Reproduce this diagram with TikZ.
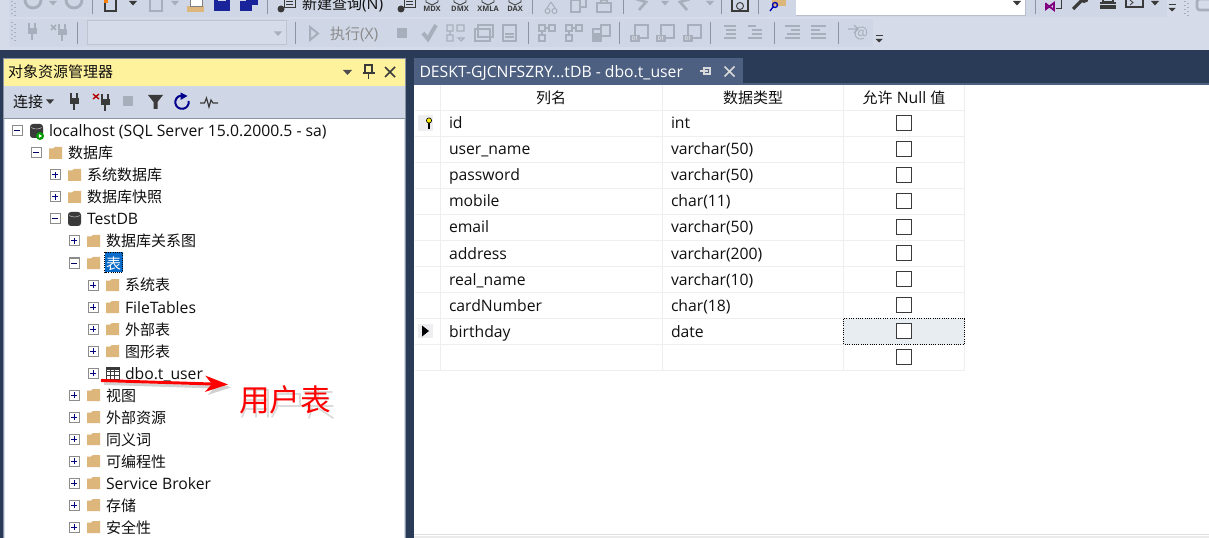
\documentclass[tikz,border=0pt]{standalone}
\usepackage{fontspec}
\setmainfont{Open Sans}
\newfontfamily\zhfont{Noto Sans CJK SC}
\newcommand{\zh}[1]{{\zhfont\fontsize{11.25}{13}\selectfont #1}}
\usetikzlibrary{arrows.meta}
\definecolor{tbone}{HTML}{CFD6E5}
\definecolor{tbtwo}{HTML}{D6DBE9}
\definecolor{navy}{HTML}{2A3B57}
\definecolor{tabblue}{HTML}{4D6082}
\definecolor{gridc}{HTML}{EEEEF0}
\definecolor{foldc}{HTML}{DCB67A}
\definecolor{iconon}{HTML}{3A3A3A}
\definecolor{iconoff}{HTML}{A8AFBC}
\definecolor{seplc}{HTML}{8B93A6}
\definecolor{txt}{HTML}{101010}
\definecolor{titley}{HTML}{FFF29D}
\definecolor{cellsel}{HTML}{E8EDF2}
\definecolor{selblue}{HTML}{0A6CC8}
\tikzset{
  lab/.style={anchor=base west,inner sep=0pt,outer sep=0pt,font=\fontsize{11.8}{13}\selectfont,text=txt},
  midlab/.style={anchor=base,inner sep=0pt,outer sep=0pt,font=\fontsize{11.8}{13}\selectfont,text=txt},
  off/.style={draw=iconoff,line width=.8pt},
  on/.style={draw=iconon,line width=1pt},
  sepl/.style={draw=seplc,line width=0.75pt},
  gline/.style={draw=gridc,line width=0.9pt},
  mini/.style={anchor=base,inner sep=0pt,outer sep=0pt,font=\fontsize{5.6}{6}\selectfont\bfseries,text=iconon},
  tiny01/.style={anchor=center,inner sep=0pt,outer sep=0pt,font=\fontsize{4}{4}\selectfont,text=white},
  annshadow/.style={draw=gray!28,line width=1.3pt,line cap=round}
}
\newcommand{\folder}[2]{\fill[foldc] (#1,#2-4.5) -- (#1+4,#2-4.5) -- (#1+6,#2-6) -- (#1+13,#2-6) -- (#1+13,#2+6) -- (#1,#2+6) -- cycle;}
\newcommand{\expminus}[2]{\draw[draw=gray!90,line width=.75pt,fill=white] (#1-5,#2-5) rectangle (#1+5,#2+5);\draw[draw=black!60!blue,line width=.75pt] (#1-3,#2) -- (#1+3,#2);}
\newcommand{\expplus}[2]{\draw[draw=gray!90,line width=.75pt,fill=white] (#1-5,#2-5) rectangle (#1+5,#2+5);\draw[draw=black!50!blue,line width=.75pt] (#1-3,#2) -- (#1+3,#2) (#1,#2-3) -- (#1,#2+3);}
\newcommand{\cyl}[2]{\fill[iconon,rounded corners=2.2pt] (#1-6.5,#2-7) rectangle (#1+6.5,#2+7);\draw[draw=white!75!black,line width=.4pt] (#1-5.5,#2-3.5) .. controls (#1-2,#2-1.5) and (#1+2,#2-1.5) .. (#1+5.5,#2-3.5);}
\newcommand{\plug}[3]{\fill[#3] (#1-4.5,#2-4) rectangle (#1+4.5,#2+2);\fill[#3] (#1-4,#2-9) rectangle (#1-1.7,#2-4);\fill[#3] (#1+1.7,#2-9) rectangle (#1+4,#2-4);\fill[#3] (#1-1.3,#2+2) rectangle (#1+1.3,#2+8);}
\newcommand{\hsep}[2]{\draw[sepl] (#1,#2) -- (#1,#2+22);}
\newcommand{\downtri}[3]{\fill[#3] (#1-4,#2-2) -- (#1+4,#2-2) -- (#1,#2+2.5) -- cycle;}
\newcommand{\overflowmark}[2]{\draw[draw=iconon,line width=.9pt] (#1-3.5,#2-3.5) -- (#1+3.5,#2-3.5);\fill[iconon] (#1-3.5,#2) -- (#1+3.5,#2) -- (#1,#2+3.5) -- cycle;}
\newcommand{\trow}[4]{\node[lab] (#1) at (#2,#3+6) {#4};}
\newcommand{\chk}[1]{\draw[draw=iconon,line width=.85pt,fill=white] (896.5,#1-7.5) rectangle (911.5,#1+7.5);}
\newcommand{\tbl}[4]{\node[lab] (n#1) at (449,#2+6) {#3};\node[lab] (t#1) at (671,#2+6) {#4};\chk{#2}}
\begin{document}
\begin{tikzpicture}[x=0.75pt,y=-0.75pt]
\useasboundingbox (0,0) rectangle (1209,538);
\clip (0,0) rectangle (1209,538);
% backgrounds
\fill[white] (0,0) rectangle (1209,538);
\fill[tbone] (0,0) rectangle (1209,17);
\fill[tbtwo] (0,17) rectangle (1209,50);
\fill[tbtwo] (0,0) rectangle (9,50);
\fill[tbone] (9,19) rectangle (873,47);
\fill[tbtwo] (1167,0) rectangle (1209,17);
\fill[navy] (0,50) rectangle (1209,85);
\fill[navy] (0,50) rectangle (414,538);
\fill[tabblue] (414,83) rectangle (1209,85);
% ---- toolbar row 1
\foreach \y in {1,5,9,13}{\fill[iconoff] (11,\y) rectangle +(1.5,1.5);\fill[iconoff] (14,\y+2) rectangle +(1.5,1.5);}
\foreach \y in {22,26,30,34,38}{\fill[iconoff] (11,\y) rectangle +(1.5,1.5);\fill[iconoff] (14,\y+2) rectangle +(1.5,1.5);}
\draw[off,line width=2.2pt] (33,0) circle[radius=8];
\draw[off,line width=2.2pt] (74,0) circle[radius=8];
\downtri{53}{3}{iconoff}
\draw[sepl] (92,0) -- (92,14);
\draw[iconon,line width=.9pt,fill=tbone] (105,-2) rectangle (116,11);
\fill[orange] (104,0) rectangle (108,3);
\downtri{133}{3}{iconon}
\draw[off,fill=tbone] (150,-2) rectangle (162,11);
\downtri{175}{3}{iconoff}
\fill[foldc] (187,6) rectangle (204,12);
\draw[draw=gray,line width=.6pt,fill=white] (190,-2) rectangle (202,6);
\fill[blue!40!navy] (214,-2) rectangle (230,11);
\fill[tbone] (218,-2) rectangle (226,1);
\fill[blue!40!navy] (240,1) rectangle (252,11);
\fill[blue!40!navy] (246,-2) rectangle (258,5);
\draw[sepl] (267,0) -- (267,14);
\fill[iconon] (281,9) circle[radius=3.5];
\draw[iconon,line width=.7pt] (284,-2) rectangle (295,7) (286,1) -- (293,1) (286,4) -- (293,4);
\node[lab] (qry) at (302,10) {\zh{新建查询}(N)};
\fill[iconon] (401,9) circle[radius=3.5];
\draw[iconon,line width=.7pt] (404,-2) rectangle (415,7) (406,1) -- (413,1) (406,4) -- (413,4);
\node[mini] (mdx) at (432,11.5) {MDX};
\node[mini] (dmx) at (460,11.5) {DMX};
\node[mini] (xmla) at (488,11.5) {XMLA};
\node[mini] (dax) at (515,11.5) {DAX};
\foreach \x in {432,460,488,515}{\draw[iconon,line width=.6pt] (\x-6,-1) -- (\x-6,2) -- (\x,5) -- (\x+6,2) -- (\x+6,-1);}
\draw[sepl] (532,0) -- (532,14);
\draw[off] (551,2) -- (547,8) (551,2) -- (555,8);
\draw[off] (547.5,11) circle[radius=2.5] (554.5,11) circle[radius=2.5];
\draw[off] (571,0) rectangle (580,12) (580,-1) rectangle (586,7);
\draw[off] (597,3) rectangle (611,12) (601,0) rectangle (607,3);
\draw[sepl] (623,0) -- (623,14);
\draw[off,line width=2pt] (636,-1) -- (646,2) -- (639,10);
\downtri{665}{3}{iconoff}
\draw[off,line width=2pt] (690,-1) -- (680,2) -- (687,10);
\downtri{710}{3}{iconoff}
\draw[sepl] (721,0) -- (721,14);
\draw[on] (732,-1) rectangle (748,11);
\draw[on,line width=.7pt] (740,6) circle[radius=3.5];
\draw[sepl] (758,0) -- (758,14);
\fill[foldc] (772,-2) rectangle (786,6);
\draw[draw=blue!70!black,line width=1pt] (775,5) circle[radius=2.5] (773,7) -- (770,11);
\fill[white] (796,0) rectangle (1025,15);
\draw[draw=seplc!60,line width=.6pt] (796,15) -- (1025,15) -- (1025,0);
\downtri{1017}{3}{iconon}
\draw[sepl] (1035,0) -- (1035,14);
\draw[draw=violet,line width=1.4pt] (1046,3) -- (1046,9) -- (1054,3) -- (1054,10) -- (1046,4);
\draw[iconon,line width=.7pt] (1052,-1) -- (1061,-1) -- (1061,8) -- (1056,8);
\draw[iconon,line width=2.4pt] (1073,9) -- (1082,0);
\fill[iconon] (1084,-2) circle[radius=5];
\fill[iconon] (1100,2) rectangle (1116,9);
\draw[iconon,line width=.8pt] (1103,0) -- (1103,2) -- (1113,2) -- (1113,0);
\draw[tbone,line width=.6pt] (1100,4) -- (1116,4);
\draw[iconon,line width=.8pt] (1126,-2) rectangle (1143,7);
\draw[iconon,line width=.6pt] (1130,0) -- (1133,2.5) -- (1130,5);
\downtri{1155}{3}{iconon}
\overflowmark{1172}{8}
\foreach \y in {1,5,9,13}{\fill[iconoff] (1184,\y) rectangle +(1.5,1.5);\fill[iconoff] (1187,\y+2) rectangle +(1.5,1.5);}
\draw[iconoff,line width=2pt,rounded corners=2pt] (1209,-1) -- (1197,-1) -- (1197,10) -- (1209,10);
% ---- toolbar row 2
\plug{32}{32}{iconoff}
\plug{62}{33}{iconoff}
\draw[iconoff,line width=1.2pt] (51,25) -- (56,30) (56,25) -- (51,30);
\hsep{77}{22}
\draw[draw=seplc!55,line width=.75pt,fill=tbtwo] (87.5,20.5) rectangle (286,45);
\downtri{278}{33.5}{iconoff}
\hsep{295}{22}
\draw[off,line width=1.5pt] (310,27) -- (310,40) -- (318,33.5) -- cycle;
\node[lab,text=black!45] (run) at (330,40) {\zh{执行}(X)};
\fill[iconoff] (397,28) rectangle (407,38);
\draw[iconoff,line width=3pt] (423,33) -- (428,39) -- (436,25);
\draw[off] (447,25) rectangle (453,31) (457,25) rectangle (464,31) (447,35) rectangle (453,41) (458,38) -- (461,41) -- (464,38) -- cycle (450,31) -- (450,35);
\draw[off] (475,29) rectangle (490,41) (478,25) rectangle (493,37);
\draw[off] (503,25) rectangle (516,41) (505,34) -- (514,34) (505,37) -- (514,37);
\hsep{528}{22}
\foreach \x in {547,574}{\draw[off] (\x-8,25) rectangle (\x-2,31) (\x+2,25) rectangle (\x+8,31) (\x-8,35) rectangle (\x-2,41) (\x-2,28) -- (\x+2,28) (\x-5,31) -- (\x-5,35);}
\draw[off] (593,29) rectangle (601,41) (601,25) rectangle (610,36);
\fill[iconoff] (593,33) rectangle (601,41);
\hsep{619}{22}
\foreach \x/\w in {639/a,665/b,692/c}{\draw[off] (\x-4,25) rectangle (\x+9,38);\fill[iconoff] (\x-9,35) rectangle (\x+1,42);\node[tiny01] (zo\w) at (\x-4,38.5) {01};}
\hsep{710}{22}
\draw[off] (724,26) -- (736,26) (726,30) -- (736,30) (726,34) -- (736,34) (724,38) -- (736,38);
\draw[off] (748,26) -- (756,26) (752,30) -- (762,30) (752,34) -- (762,34) (748,38) -- (762,38);
\hsep{774}{22}
\draw[off] (785,26) -- (800,26) (785,38) -- (800,38) (791,30) -- (800,30);
\draw[off,line width=1.2pt] (787,34) -- (800,34);
\draw[off] (811,26) -- (826,26) (811,38) -- (826,38) (811,34) -- (826,34) (811,30) -- (820,30);
\hsep{838}{22}
\draw[iconoff,line width=.9pt] (848,29) -- (858,29) (854,25) -- (858,29) -- (854,33);
\node[anchor=base,inner sep=0pt,font=\fontsize{12}{13}\selectfont,text=iconoff] (atsign) at (861,39) {@};
\overflowmark{879}{39}
% ---- left panel
\fill[tbtwo] (3,58) rectangle (406,538);
\fill[white] (5,118) rectangle (404,538);
\draw[draw=seplc,line width=.75pt] (3.5,58.5) -- (405.5,58.5) -- (405.5,538) (3.5,58.5) -- (3.5,538);
\fill[titley] (4,59) rectangle (405,86);
\fill[tbone] (4,86) rectangle (405,118);
\draw[draw=seplc,line width=.75pt] (4,118.5) -- (405,118.5);
\node[lab] (title) at (8,78) {\zh{对象资源管理器}};
\fill[iconon!90] (343,70) -- (352,70) -- (347.5,75) -- cycle;
\draw[iconon,line width=.9pt] (365,65) rectangle (372,73) (362.5,73) -- (374.5,73) (368.5,73) -- (368.5,79);
\draw[iconon,line width=1.2pt] (385,67) -- (395,77) (395,67) -- (385,77);
\node[lab] (conn) at (13,108) {\zh{连接}};
\downtri{50}{101.5}{iconon}
\plug{74}{102}{iconon}
\plug{105}{103}{iconon}
\draw[red!70!black,line width=1pt] (93,94) -- (99,99) (99,94) -- (93,99);
\fill[iconoff] (123,96) rectangle (133,106);
\fill[iconon] (148,95) -- (163,95) -- (157.5,102) -- (157.5,109) -- (153.5,109) -- (153.5,102) -- cycle;
\draw[draw=blue!55!black,line width=1.5pt] (188.6,101) arc[start angle=-10,end angle=260,radius=6.7];
\fill[blue!55!black] (180.5,92.5) -- (187.5,96) -- (180.5,100) -- cycle;
\draw[iconon,line width=.9pt] (200,103) -- (204.5,103) -- (206.5,98) -- (209,107) -- (211,100) -- (213,103) -- (218,103);
% ---- tree
\expminus{17}{131}\cyl{36.5}{131}
\fill[green!60!black] (40,136) circle[radius=4];\fill[white] (38.8,134) -- (42,136) -- (38.8,138) -- cycle;
\trow{r0}{49}{131}{localhost (SQL Server 15.0.2000.5 - sa)}
\expminus{36}{153}\folder{49}{153}
\trow{r1}{68}{153}{\zh{数据库}}
\expplus{55}{175}\folder{68}{175}
\trow{r2}{87}{175}{\zh{系统数据库}}
\expplus{55}{197}\folder{68}{197}
\trow{r3}{87}{197}{\zh{数据库快照}}
\expminus{55}{219}\cyl{74.5}{219}
\trow{r4}{87}{219}{TestDB}
\expplus{74}{241}\folder{87}{241}
\trow{r5}{106}{241}{\zh{数据库关系图}}
\expminus{74}{263}\folder{87}{263}
\fill[selblue] (104.5,252.5) rectangle (122.5,272);
\draw[black,line width=.6pt,densely dotted] (104.5,252.5) rectangle (122.5,272);
\node[lab,text=white] (r6) at (106,269) {\zh{表}};
\expplus{93}{285}\folder{106}{285}
\trow{r7}{125}{285}{\zh{系统表}}
\expplus{93}{307}\folder{106}{307}
\trow{r8}{125}{307}{FileTables}
\expplus{93}{329}\folder{106}{329}
\trow{r9}{125}{329}{\zh{外部表}}
\expplus{93}{351}\folder{106}{351}
\trow{r10}{125}{351}{\zh{图形表}}
\expplus{93}{373}
\draw[iconon,line width=.6pt] (106,367) rectangle (119,379) (106,371) -- (119,371) (106,375) -- (119,375) (110.3,367) -- (110.3,379) (114.6,367) -- (114.6,379);
\fill[iconon] (106,366.5) rectangle (119,370);
\trow{r11}{125}{373}{dbo.t\_user}
\expplus{74}{395}\folder{87}{395}
\trow{r12}{106}{395}{\zh{视图}}
\expplus{74}{417}\folder{87}{417}
\trow{r13}{106}{417}{\zh{外部资源}}
\expplus{74}{439}\folder{87}{439}
\trow{r14}{106}{439}{\zh{同义词}}
\expplus{74}{461}\folder{87}{461}
\trow{r15}{106}{461}{\zh{可编程性}}
\expplus{74}{483}\folder{87}{483}
\trow{r16}{106}{483}{Service Broker}
\expplus{74}{505}\folder{87}{505}
\trow{r17}{106}{505}{\zh{存储}}
\expplus{74}{527}\folder{87}{527}
\trow{r18}{106}{527}{\zh{安全性}}
% ---- annotation
\coordinate (astart) at (101,380.5);
\coordinate (aend) at (228,384.5);
\coordinate (astartb) at (104,383.5);
\coordinate (aendb) at (231,387.5);
\draw[draw=gray!35,line width=2.2pt,-{Stealth[length=17pt,width=12pt,inset=5pt]}] (astartb) -- (aendb);
\draw[draw=red,line width=2.2pt,-{Stealth[length=17pt,width=12pt,inset=5pt]}] (astart) -- (aend);
% soft drop shadow under the annotation glyphs
\draw[annshadow] (245,390) -- (245,410) -- (242,417) (245,390) -- (268,390) -- (268,417) (246,400) -- (268,400) (246,409) -- (268,409) (256,390) -- (256,417);
\draw[annshadow] (277,394) -- (277,408) -- (272,417) (277,394) -- (300,394) -- (300,406) -- (277,406) (285,387) -- (288,392);
\draw[annshadow] (304,392) -- (332,392) (307,399) -- (329,399) (303,406) -- (333,406) (318,388) -- (318,406) (312,408) -- (309,418) (318,408) -- (333,418);
\node[anchor=base,inner sep=0pt,text=red,font=\fontsize{23}{26}\selectfont\zhfont] (ann) at (285,411) {用户表};
% ---- document tab
\fill[tabblue] (414,58) rectangle (743,85);
\node[lab,text=white] (tab) at (419.5,78) {DESKT-GJCNFSZRY...tDB - dbo.t\_user};
\draw[white!85!black,line width=.8pt] (704,67) -- (704,75) (700,71) -- (708,71) (704,68) rectangle (710,74);
\draw[white!85!black,line width=1.2pt] (724.5,66.5) -- (734.5,76.5) (734.5,66.5) -- (724.5,76.5);
% ---- grid
\fill[white] (414,85) rectangle (1209,538);
\fill[cellsel] (843.5,318.5) rectangle (964.5,344.5);
\foreach \y in {110.5,136.5,162.5,188.5,214.5,240.5,266.5,292.5,318.5,344.5,370.5}{\draw[gline] (415,\y) -- (965,\y);}
\draw[gline] (440.5,85) -- (440.5,370.5) (662.5,85) -- (662.5,370.5) (843.5,85) -- (843.5,370.5) (964.5,85) -- (964.5,370.5);
\draw[black,line width=.7pt,densely dotted] (843.5,318.5) rectangle (964.5,344.5);
\node[midlab] (h1) at (551,104) {\zh{列名}};
\node[midlab] (h2) at (753,104) {\zh{数据类型}};
\node[midlab] (h3) at (904,104) {\zh{允许} Null \zh{值}};
\fill[gridc] (418,115) rectangle (433,131);
\draw[black,line width=.5pt,fill=yellow] (429,120.5) circle[radius=2.6];
\draw[black,line width=.9pt] (429,123) -- (429,129);
\tbl{0}{123}{id}{int}
\tbl{1}{149}{user\_name}{varchar(50)}
\tbl{2}{175}{password}{varchar(50)}
\tbl{3}{201}{mobile}{char(11)}
\tbl{4}{227}{email}{varchar(50)}
\tbl{5}{253}{address}{varchar(200)}
\tbl{6}{279}{real\_name}{varchar(10)}
\tbl{7}{305}{cardNumber}{char(18)}
\tbl{8}{331}{birthday}{date}
\chk{357}
\fill[gridc] (418,324) rectangle (433,338);
\fill[black] (422,325.5) -- (429,331) -- (422,336.5) -- cycle;
\draw[draw=black!12,line width=.8pt] (414,534.5) -- (1209,534.5);
\draw[draw=black!8,line width=1pt] (414,537) -- (1209,537);
\end{tikzpicture}
\end{document}
